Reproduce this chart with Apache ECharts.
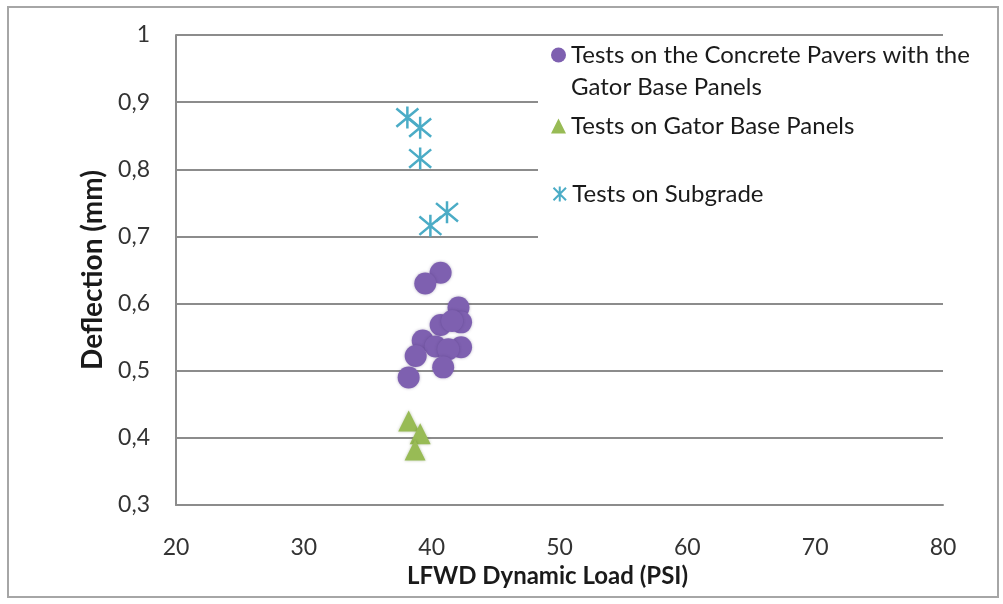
<!DOCTYPE html>
<html><head><meta charset="utf-8">
<script src="https://cdn.jsdelivr.net/npm/echarts@6/dist/echarts.min.js"></script>
<style>html,body{margin:0;padding:0;background:#fff}#c{width:1003px;height:604px}</style>
</head><body><div id="c"></div>
<script>
const seriesNames = ['Tests on the Concrete Pavers with the\nGator Base Panels', 'Tests on Gator Base Panels', 'Tests on Subgrade'];
const concreteX = [40.7, 39.5, 42.1, 42.3, 40.7, 41.6, 39.3, 40.3, 42.3, 41.3, 38.75, 40.9, 38.2];
const concreteY = [0.646, 0.630, 0.594, 0.572, 0.568, 0.574, 0.545, 0.536, 0.535, 0.532, 0.522, 0.505, 0.490];
const gatorX = [38.2, 39.1, 38.7];
const gatorY = [0.425, 0.406, 0.382];
const subgradeX = [38.1, 39.1, 39.1, 39.9, 41.2];
const subgradeY = [0.877, 0.862, 0.816, 0.716, 0.736];
const xTicks = {min: 20, max: 80, interval: 10};
const yTicks = {min: 0.3, max: 1, interval: 0.1};
const xTitle = 'LFWD Dynamic Load (PSI)';
const yTitle = 'Deflection (mm)';

const zip = (a, b) => a.map((v, i) => [v, b[i]]);
const FONT = 'Lato';
const asterisk = 'path://M0,0L20,20M20,0L0,20M10,-2L10,22';

const chart = echarts.init(document.getElementById('c'), null, {renderer: 'canvas'});
const legendText = {fontFamily: FONT, fontSize: 24, color: '#1a1a1a', lineHeight: 32};
chart.setOption({
  animation: false,
  backgroundColor: '#fff',
  graphic: [
    {type: 'rect', shape: {x: 8, y: 7, width: 990, height: 590}, style: {fill: 'none', stroke: '#a6a6a6', lineWidth: 2}, z: 0},
    {type: 'rect', shape: {x: 538, y: 44, width: 450, height: 206}, style: {fill: '#fff'}, z: 1}
  ],
  grid: {left: 176, right: 60, top: 35, bottom: 99},
  xAxis: {
    type: 'value', min: xTicks.min, max: xTicks.max, interval: xTicks.interval,
    name: xTitle, nameLocation: 'middle', nameGap: 54,
    nameTextStyle: {fontFamily: FONT, fontSize: 24, fontWeight: 'bold', color: '#1a1a1a', padding: [0, 24, 0, 0]},
    axisLine: {show: true, lineStyle: {color: '#8c8c8c', width: 2}},
    axisTick: {show: false},
    splitLine: {show: false},
    axisLabel: {fontFamily: FONT, fontSize: 23, color: '#333', margin: 31}
  },
  yAxis: {
    type: 'value', min: yTicks.min, max: yTicks.max, interval: yTicks.interval,
    name: yTitle, nameLocation: 'middle', nameGap: 52,
    nameTextStyle: {fontFamily: FONT, fontSize: 28, fontWeight: 'bold', color: '#1a1a1a'},
    axisLine: {show: true, lineStyle: {color: '#8c8c8c', width: 2}},
    axisTick: {show: false},
    splitLine: {show: true, lineStyle: {color: '#8c8c8c', width: 2}},
    axisLabel: {fontFamily: FONT, fontSize: 23, color: '#333', margin: 26,
      formatter: v => String(+v.toFixed(1)).replace('.', ',')}
  },
  legend: [
    {data: [seriesNames[0]], orient: 'vertical', left: 551, top: 7, padding: 0, itemWidth: 15, itemHeight: 15, z: 5,
     formatter: n => ' \n' + n, textStyle: legendText},
    {data: [seriesNames[1]], orient: 'vertical', left: 551, top: 110, padding: 0, itemWidth: 15, itemHeight: 15, z: 5,
     textStyle: legendText},
    {data: [seriesNames[2]], orient: 'vertical', left: 551, top: 178, padding: 0, itemWidth: 15, itemHeight: 15, z: 5,
     textStyle: legendText}
  ],
  series: [
    {name: seriesNames[0], type: 'scatter', symbol: 'circle', symbolSize: 22,
     itemStyle: {color: '#7e60b0', opacity: 1, shadowBlur: 3, shadowColor: 'rgba(60,40,100,0.35)'},
     data: zip(concreteX, concreteY)},
    {name: seriesNames[1], type: 'scatter', symbol: 'triangle', symbolSize: 21,
     itemStyle: {color: '#98bb55', opacity: 1, shadowBlur: 3, shadowColor: 'rgba(60,90,20,0.35)'},
     data: zip(gatorX, gatorY)},
    {name: seriesNames[2], type: 'scatter', symbol: asterisk, symbolSize: 22,
     itemStyle: {color: 'none', borderColor: '#4bacc6', borderWidth: 2.5, opacity: 1},
     data: zip(subgradeX, subgradeY)}
  ]
});
</script></body></html>
